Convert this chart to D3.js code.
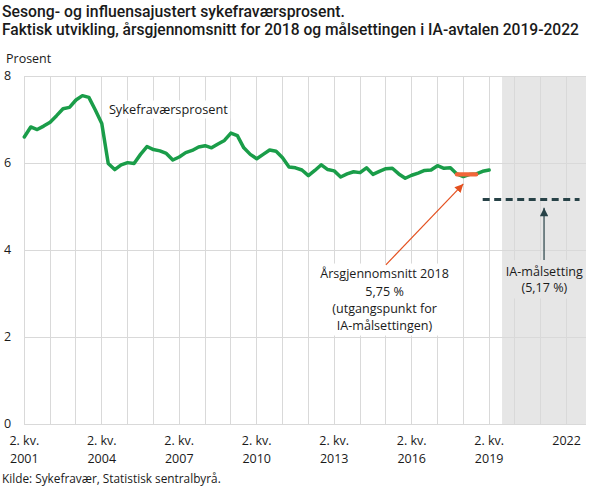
<!DOCTYPE html>
<html><head><meta charset="utf-8">
<script src="https://cdn.jsdelivr.net/npm/d3@7"></script>
<style>
body{margin:0;background:#fff}
svg{display:block;font-family:"Open Sans",sans-serif}
</style>
</head><body>
<svg id="c" width="609" height="489"></svg>
<script>
// ---------- data ----------
const title1 = "Sesong- og influensajustert sykefraværsprosent.";
const title2 = "Faktisk utvikling, årsgjennomsnitt for 2018 og målsettingen i IA-avtalen 2019-2022";
const yTitle = "Prosent";
const sourceText = "Kilde: Sykefravær, Statistisk sentralbyrå.";

// quarterly values, 2. kv. 2001 – 2. kv. 2019
const values = [
  6.61, 6.84, 6.78, 6.86,
  6.95, 7.10, 7.26, 7.29,
  7.46, 7.56, 7.52, 7.23,
  6.92, 6.00, 5.86, 5.97,
  6.02, 6.00, 6.21, 6.39,
  6.32, 6.29, 6.23, 6.08,
  6.15, 6.25, 6.30, 6.38,
  6.41, 6.36, 6.45, 6.53,
  6.70, 6.64, 6.36, 6.21,
  6.11, 6.21, 6.31, 6.28,
  6.13, 5.92, 5.90, 5.85,
  5.72, 5.84, 5.97, 5.86,
  5.83, 5.69, 5.76, 5.81,
  5.79, 5.90, 5.75, 5.82,
  5.88, 5.89, 5.76, 5.66,
  5.73, 5.78, 5.84, 5.85,
  5.95, 5.89, 5.90, 5.76,
  5.70, 5.75, 5.76, 5.82,
  5.85
];
const yTicks = [0, 2, 4, 6, 8];
const tickIndex = [0, 12, 24, 36, 48, 60, 72, 84];
const tickLine1 = ["2. kv.", "2. kv.", "2. kv.", "2. kv.", "2. kv.", "2. kv.", "2. kv.", "2022"];
const tickLine2 = ["2001", "2004", "2007", "2010", "2013", "2016", "2019", ""];
const lastCategory = 87;             // 1. kv. 2023
const avg2018 = {value: 5.75, from: 67, to: 70};
const iaTarget = {value: 5.17, from: 71, to: 86};
const band = {from: 74, to: 87};
const seriesLabel = "Sykefraværsprosent";
const avgLabel = ["Årsgjennomsnitt 2018", "5,75 %", "(utgangspunkt for", "IA-målsettingen)"];
const iaLabel = ["IA-målsetting", "(5,17 %)"];

// ---------- layout ----------
const C = {green:"#1a9d49", orange:"#f26539", orangeLine:"#e4501f", dark:"#274247",
           grid:"#d9d9d9", band:"#e6e6e6", text:"#1a1a1a"};
const svg = d3.select("#c");
const x = d3.scaleLinear().domain([0, lastCategory]).range([24.3, 586]);
const y = d3.scaleLinear().domain([0, 8]).range([424.5, 76.5]);

function fit(sel, target){
  const n = sel.node(); const w = n.getComputedTextLength();
  const fs = parseFloat(sel.attr("font-size"));
  sel.attr("font-size", (fs*target/w).toFixed(2));
  return fs*target/w;
}

// band
svg.append("rect").attr("x", x(band.from)).attr("y", y(8))
  .attr("width", x(band.to)-x(band.from)).attr("height", y(0)-y(8)).attr("fill", C.band);

// grid
const g = svg.append("g").attr("stroke", C.grid).attr("stroke-width", 1).attr("shape-rendering","crispEdges");
g.selectAll(".h").data(yTicks).join("line")
  .attr("x1", x(0)).attr("x2", x(lastCategory)).attr("y1", d=>y(d)).attr("y2", d=>y(d));
g.selectAll(".v").data(d3.range(0, 85, 4)).join("line")
  .attr("x1", d=>x(d)).attr("x2", d=>x(d)).attr("y1", y(0)).attr("y2", y(8));

// label boxes (drawn before marks)
const boxes = svg.append("g");

// series line
svg.append("path").datum(values)
  .attr("d", d3.line().x((d,i)=>x(i)).y(d=>y(d)))
  .attr("fill","none").attr("stroke", C.green).attr("stroke-width", 3.5)
  .attr("stroke-linejoin","round").attr("stroke-linecap","round");

// 2018 average
svg.append("line").attr("x1", x(avg2018.from)).attr("x2", x(avg2018.to))
  .attr("y1", y(avg2018.value)).attr("y2", y(avg2018.value))
  .attr("stroke", C.orange).attr("stroke-width", 4.2).attr("stroke-linecap","round");

// IA target
svg.append("line").attr("x1", x(iaTarget.from)).attr("x2", x(iaTarget.to))
  .attr("y1", y(iaTarget.value)).attr("y2", y(iaTarget.value))
  .attr("stroke", C.dark).attr("stroke-width", 3).attr("stroke-dasharray","7,4.5")
  .attr("stroke-linecap","butt");

// markers
const defs = svg.append("defs");
function marker(id, col){
  defs.append("marker").attr("id", id).attr("viewBox","0 0 10 10").attr("refX", 10).attr("refY", 5)
    .attr("markerWidth", 9).attr("markerHeight", 8.5).attr("markerUnits","userSpaceOnUse").attr("orient","auto")
    .append("path").attr("d","M0,0 L10,5 L0,10 z").attr("fill", col);
}
marker("mo", C.orangeLine); marker("md", C.dark);

// axis labels
const t = svg.append("g").attr("fill", C.text);
t.selectAll(".yl").data(yTicks).join("text")
  .attr("x", 4).attr("y", d=>y(d)+3.5).attr("font-size", 12.5).text(d=>d);
t.append("text").attr("x", 6).attr("y", 63.3).attr("font-size", 12.5).text(yTitle);
const xl = t.selectAll(".xl").data(tickIndex).join("g");
xl.append("text").attr("x", d=>x(d)).attr("y", 445).attr("text-anchor","middle")
  .attr("font-size", 12.5).text((d,i)=>tickLine1[i]);
xl.append("text").attr("x", d=>x(d)).attr("y", 463.3).attr("text-anchor","middle")
  .attr("font-size", 12.5).text((d,i)=>tickLine2[i]);

// titles
const ts1 = t.append("text").attr("x", 2).attr("y", 17.3).attr("font-size", 15)
  .attr("font-family", "Roboto, sans-serif").attr("font-weight", 500).text(title1);
const ts2 = t.append("text").attr("x", 2).attr("y", 35.2).attr("font-size", 15)
  .attr("font-family", "Roboto, sans-serif").attr("font-weight", 500).text(title2);
fit(ts1, 343);
fit(ts2, 577);
const src = t.append("text").attr("x", 2).attr("y", 483).attr("font-size", 11.5).text(sourceText);
fit(src, 219);

// annotations
const sl = t.append("text").attr("x", x(13.1)).attr("y", y(7.23)+4.5).attr("font-size", 13).text(seriesLabel);
fit(sl, 119);
const sb = sl.node().getBBox();
boxes.append("rect").attr("x", sb.x-2).attr("y", sb.y).attr("width", sb.width+4).attr("height", sb.height).attr("fill","#fff");

const avgG = t.append("g");
const avgT = avgG.selectAll("text").data(avgLabel).join("text")
  .attr("x", x(55.8)).attr("y", (d,i)=>278.3 + i*17.3).attr("text-anchor","middle").attr("font-size", 12.5).text(d=>d);
const fs = fit(d3.select(avgT.nodes()[0]), 128.6);
avgT.attr("font-size", fs.toFixed(2));
const ab = avgG.node().getBBox();
boxes.append("rect").attr("x", ab.x-5).attr("y", y(3.7)).attr("width", ab.width+10).attr("height", 72).attr("fill","#fff");

const iaG = t.append("g");
iaG.selectAll("text").data(iaLabel).join("text")
  .attr("x", x(80.55)).attr("y", (d,i)=>276 + i*15.5).attr("text-anchor","middle").attr("font-size", fs.toFixed(2)).text(d=>d);
const ib = iaG.node().getBBox();
boxes.append("rect").attr("x", ib.x-3).attr("y", y(3.78)).attr("width", ib.width+6).attr("height", ib.y+ib.height+3-y(3.78)).attr("fill", C.band);

// arrows
svg.append("line").attr("x1", x(56)).attr("y1", y(3.67)).attr("x2", x(68)).attr("y2", y(5.53))
  .attr("stroke", C.orangeLine).attr("stroke-width", 1.2).attr("marker-end","url(#mo)");
svg.append("line").attr("x1", x(80.5)).attr("y1", y(3.78)).attr("x2", x(80.5)).attr("y2", y(4.98))
  .attr("stroke", C.dark).attr("stroke-width", 1.2).attr("marker-end","url(#md)");
</script>
</body></html>
